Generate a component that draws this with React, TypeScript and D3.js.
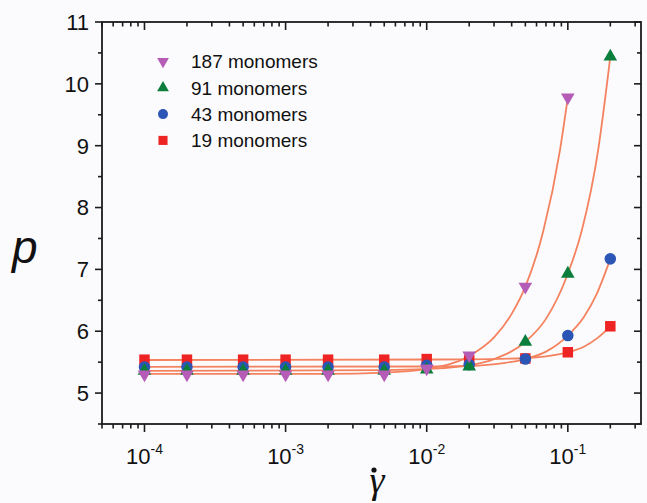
import React from 'react';
import * as d3 from 'd3';

const W = 647;
const H = 503;

// shear rates of the simulations
const rates = [1e-4, 2e-4, 5e-4, 1e-3, 2e-3, 5e-3, 1e-2, 2e-2, 5e-2, 1e-1, 2e-1];

// measured p per chain length
const p187 = [5.30, 5.30, 5.30, 5.30, 5.30, 5.30, 5.40, 5.61, 6.72, 9.78];
const p91 = [5.36, 5.36, 5.36, 5.36, 5.36, 5.36, 5.38, 5.43, 5.83, 6.93, 10.44];
const p43 = [5.42, 5.42, 5.42, 5.42, 5.42, 5.42, 5.45, 5.46, 5.55, 5.93, 7.17];
const p19 = [5.54, 5.54, 5.54, 5.54, 5.54, 5.54, 5.55, 5.53, 5.56, 5.66, 6.08];

// fitted curves
const fitRates187 = [1e-4, 2e-3, 5e-3, 1e-2, 2e-2, 3e-2, 4e-2, 5e-2, 6.7e-2, 8.8e-2, 1e-1];
const fit187 = [5.31, 5.31, 5.33, 5.39, 5.60, 5.90, 6.28, 6.72, 7.62, 8.93, 9.78];
const fitRates91 = [1e-4, 5e-3, 1e-2, 2e-2, 3e-2, 5e-2, 7e-2, 1e-1, 1.26e-1, 1.64e-1, 2e-1];
const fit91 = [5.36, 5.37, 5.39, 5.45, 5.55, 5.83, 6.20, 6.93, 7.64, 8.93, 10.44];
const fitRates43 = [1e-4, 1e-2, 2e-2, 3.5e-2, 5e-2, 7e-2, 1e-1, 1.3e-1, 1.6e-1, 2e-1];
const fit43 = [5.425, 5.43, 5.44, 5.485, 5.55, 5.67, 5.93, 6.23, 6.60, 7.17];
const fitRates19 = [1e-4, 2e-2, 5e-2, 7e-2, 1e-1, 1.3e-1, 1.6e-1, 2e-1];
const fit19 = [5.535, 5.545, 5.567, 5.595, 5.66, 5.75, 5.88, 6.08];

const labels = ['187 monomers', '91 monomers', '43 monomers', '19 monomers'];
const xMajor = [1e-4, 1e-3, 1e-2, 1e-1];
const xMajorLabels = ['-4', '-3', '-2', '-1'];

const FONT = '"Liberation Sans", Arial, sans-serif';
const FIT_COLOR = '#f5825f';

type Series = {
  name: string;
  values: number[];
  fitX: number[];
  fitY: number[];
  color: string;
  symbol: d3.SymbolType;
  size: number;
  rotate: number;
};

export default function App() {
  const x = d3.scaleLog().domain([5e-5, 0.33]).range([102, 641]);
  const y = d3.scaleLinear().domain([4.5, 11]).range([424, 22]);

  const series: Series[] = [
    { name: labels[3], values: p19, fitX: fitRates19, fitY: fit19, color: '#ee2424', symbol: d3.symbolSquare, size: 110, rotate: 0 },
    { name: labels[2], values: p43, fitX: fitRates43, fitY: fit43, color: '#2c56b6', symbol: d3.symbolCircle, size: 105, rotate: 0 },
    { name: labels[1], values: p91, fitX: fitRates91, fitY: fit91, color: '#0c7e3c', symbol: d3.symbolTriangle, size: 80, rotate: 0 },
    { name: labels[0], values: p187, fitX: fitRates187, fitY: fit187, color: '#b45cb6', symbol: d3.symbolTriangle, size: 80, rotate: 180 },
  ];

  const line = d3
    .line<[number, number]>()
    .x(d => x(d[0]))
    .y(d => y(d[1]))
    .curve(d3.curveMonotoneX);

  const [left, right] = x.range();
  const [bottom, top] = y.range();

  const xTicks = x.ticks().filter(t => t >= 5e-5 && t <= 0.33);
  const isMajor = (t: number) => Math.abs(Math.log10(t) - Math.round(Math.log10(t))) < 1e-6;
  const yTicks = d3.range(9, 23).map(i => i / 2);

  const legend = [...series].reverse();

  return (
    <svg width={W} height={H} style={{ position: 'absolute', left: 0, top: 0 }} fontFamily={FONT}>
      <rect width={W} height={H} fill="#fbfbfd" />

      {/* fit curves */}
      {series.map(s => (
        <path
          key={'fit' + s.name}
          d={line(s.fitX.map((r, i) => [r, s.fitY[i]] as [number, number])) || ''}
          fill="none"
          stroke={FIT_COLOR}
          strokeWidth={1.8}
        />
      ))}

      {/* markers */}
      {series.map(s => (
        <g key={'pts' + s.name} fill={s.color}>
          {s.values.map((v, i) => (
            <path
              key={i}
              d={d3.symbol().type(s.symbol).size(s.size)() || ''}
              transform={`translate(${x(rates[i])},${y(v)}) rotate(${s.rotate})`}
            />
          ))}
        </g>
      ))}

      {/* frame */}
      <rect x={left} y={top} width={right - left} height={bottom - top} fill="none" stroke="#1b1b1b" strokeWidth={1.8} />

      {/* x ticks, bottom (out) and top (in) */}
      {xTicks.map(t => {
        const len = isMajor(t) ? 8 : 4.5;
        return (
          <g key={'xt' + t} stroke="#1b1b1b" strokeWidth={1.6}>
            <line x1={x(t)} x2={x(t)} y1={bottom} y2={bottom + len} />
            <line x1={x(t)} x2={x(t)} y1={top} y2={top + len} />
          </g>
        );
      })}
      {xMajor.map((t, i) => (
        <text key={'xl' + t} x={x(t)} y={464} textAnchor="middle" fontSize={22} fill="#111">
          10
          <tspan fontSize={14} dy={-10}>{xMajorLabels[i]}</tspan>
        </text>
      ))}

      {/* y ticks, left (out) and right (in) */}
      {yTicks.map(t => {
        const major = Number.isInteger(t);
        const len = major ? 7 : 4;
        return (
          <g key={'yt' + t} stroke="#1b1b1b" strokeWidth={1.6}>
            <line x1={left} x2={left - len} y1={y(t)} y2={y(t)} />
            <line x1={right} x2={right - len} y1={y(t)} y2={y(t)} />
          </g>
        );
      })}
      {yTicks.filter(t => Number.isInteger(t)).map(t => (
        <text key={'yl' + t} x={89} y={y(t)} dy="0.36em" textAnchor="end" fontSize={22} fill="#111">
          {t}
        </text>
      ))}

      {/* axis titles */}
      <text x={12} y={263} fontSize={46} fontStyle="italic" fill="#111">p</text>
      <text x={377} y={493} textAnchor="middle" fontSize={38} fontStyle="italic" fontFamily='"Liberation Serif", serif' fill="#111">γ</text>
      <circle cx={374} cy={470} r={2.6} fill="#111" />

      {/* legend */}
      {legend.map((s, i) => {
        const ly = 61.5 + i * 26.3;
        return (
          <g key={'lg' + s.name}>
            <path
              d={d3.symbol().type(s.symbol).size(s.size * 0.75)() || ''}
              transform={`translate(163,${ly}) rotate(${s.rotate})`}
              fill={s.color}
            />
            <text x={191} y={ly} dy="0.36em" fontSize={19} fill="#111">{s.name}</text>
          </g>
        );
      })}
    </svg>
  );
}
